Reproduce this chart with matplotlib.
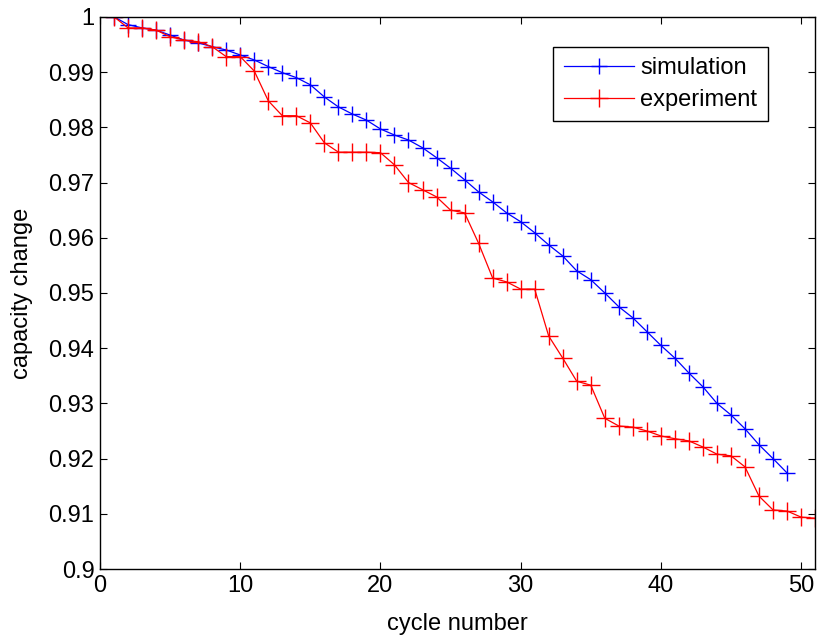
import matplotlib
matplotlib.use("Agg")
import matplotlib.pyplot as plt

plt.rcParams.update({"font.family": ["Liberation Sans", "DejaVu Sans"], "font.size": 17})

# capacity retention per cycle
sim_cycles = list(range(1, 50))
sim_capacity = [
    1.0000, 0.9986, 0.9980, 0.9976, 0.9967, 0.9958, 0.9953, 0.9946, 0.9940, 0.9931,
    0.9922, 0.9910, 0.9899, 0.9890, 0.9877, 0.9855, 0.9837, 0.9824, 0.9813, 0.9797,
    0.9786, 0.9777, 0.9763, 0.9745, 0.9726, 0.9705, 0.9683, 0.9665, 0.9645, 0.9629,
    0.9609, 0.9587, 0.9567, 0.9540, 0.9524, 0.9500, 0.9475, 0.9455, 0.9430, 0.9405,
    0.9382, 0.9355, 0.9330, 0.9300, 0.9279, 0.9254, 0.9225, 0.9200, 0.9174,
]

exp_cycles = list(range(1, 52))
exp_capacity = [
    1.0000, 0.9980, 0.9980, 0.9976, 0.9964, 0.9958, 0.9955, 0.9946, 0.9928, 0.9928,
    0.9902, 0.9848, 0.9821, 0.9821, 0.9808, 0.9772, 0.9755, 0.9755, 0.9755, 0.9754,
    0.9732, 0.9700, 0.9687, 0.9674, 0.9650, 0.9645, 0.9590, 0.9527, 0.9520, 0.9507,
    0.9507, 0.9422, 0.9382, 0.9340, 0.9333, 0.9273, 0.9259, 0.9257, 0.9250, 0.9241,
    0.9236, 0.9232, 0.9221, 0.9208, 0.9205, 0.9185, 0.9132, 0.9107, 0.9105, 0.9094,
    0.9092,
]

fig = plt.figure(figsize=(8.2, 6.42), dpi=100)
ax = fig.add_axes([0.122, 0.1137, 0.872, 0.86])

ax.plot(sim_cycles, sim_capacity, "-+", color="#0000ff", lw=0.9, ms=11, mew=1.0, label="simulation")
ax.plot(exp_cycles, exp_capacity, "-+", color="#ff0000", lw=0.9, ms=13, mew=1.0, label="experiment")

ax.set_xlim(0, 51)
ax.set_ylim(0.9, 1.0)
ax.set_xticks(range(0, 51, 10))
ax.set_yticks([0.9 + 0.01 * i for i in range(11)])
ax.set_yticklabels(["0.9", "0.91", "0.92", "0.93", "0.94", "0.95", "0.96", "0.97", "0.98", "0.99", "1"])
ax.tick_params(direction="in", top=True, right=True, length=5, width=0.8, pad=4)
for s in ax.spines.values():
    s.set_linewidth(1.0)

ax.set_xlabel("cycle number", labelpad=12)
ax.set_ylabel("capacity change", labelpad=11)

leg = ax.legend(loc="upper right", bbox_to_anchor=(0.934, 0.946), fancybox=False, framealpha=1,
                edgecolor="black", borderaxespad=0, handlelength=3.0, handletextpad=0.25,
                borderpad=0.45, labelspacing=0.4)
leg.get_frame().set_linewidth(1.0)

fig.savefig("out.png", dpi=100)
